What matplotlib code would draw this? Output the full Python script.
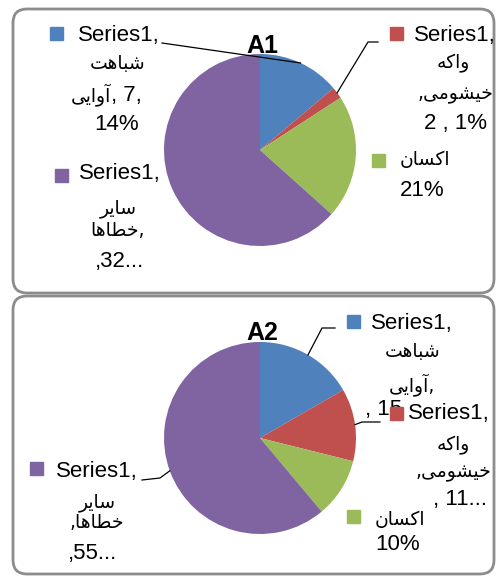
import numpy as np
import matplotlib.pyplot as plt
from matplotlib.patches import FancyBboxPatch, Rectangle

# slice order: شباهت آوایی, واکه خیشومی, اکسان, سایر خطاها
colors = ['#4F81BD', '#C0504D', '#9BBB59', '#8064A2']
a1_values = [7, 1, 10.5, 32]
a2_values = [15, 11, 9, 55]
titles = ['A1', 'A2']

W, H = 496, 576
LATIN = ['Liberation Sans', 'DejaVu Sans']
PERSIAN = ['DejaVu Sans']

# matplotlib has no arabic shaping, so pick presentation forms by hand
# (isolated, final, initial, medial)
FORMS = {
    'ا': ('\uFE8D', '\uFE8E', None, None),
    'آ': ('\uFE81', '\uFE82', None, None),
    'ب': ('\uFE8F', '\uFE90', '\uFE91', '\uFE92'),
    'ت': ('\uFE95', '\uFE96', '\uFE97', '\uFE98'),
    'خ': ('\uFEA5', '\uFEA6', '\uFEA7', '\uFEA8'),
    'ر': ('\uFEAD', '\uFEAE', None, None),
    'س': ('\uFEB1', '\uFEB2', '\uFEB3', '\uFEB4'),
    'ش': ('\uFEB5', '\uFEB6', '\uFEB7', '\uFEB8'),
    'ط': ('\uFEC1', '\uFEC2', '\uFEC3', '\uFEC4'),
    'م': ('\uFEE1', '\uFEE2', '\uFEE3', '\uFEE4'),
    'ن': ('\uFEE5', '\uFEE6', '\uFEE7', '\uFEE8'),
    'ه': ('\uFEE9', '\uFEEA', '\uFEEB', '\uFEEC'),
    'و': ('\uFEED', '\uFEEE', None, None),
    'ک': ('\uFB8E', '\uFB8F', '\uFB90', '\uFB91'),
    'ی': ('\uFBFC', '\uFBFD', '\uFBFE', '\uFBFF'),
}


def fa(word):
    out = []
    for i, ch in enumerate(word):
        iso, fin, ini, med = FORMS[ch]
        joins_prev = i > 0 and FORMS[word[i - 1]][2] is not None
        joins_next = i < len(word) - 1 and ini is not None
        if joins_prev and joins_next:
            out.append(med)
        elif joins_prev:
            out.append(fin)
        elif joins_next:
            out.append(ini)
        else:
            out.append(iso)
    return ''.join(reversed(out))


fig = plt.figure(figsize=(W / 100, H / 100), dpi=100)
ax = fig.add_axes([0, 0, 1, 1])

# panel frames
for y0, h in [(9, 284), (296, 278)]:
    ax.add_patch(FancyBboxPatch((13, y0), 481, h,
                                boxstyle='round,pad=0,rounding_size=14',
                                fc='white', ec='#8c8c8c', lw=2.0, zorder=0))

centers = [(260, 150), (260, 438)]
radius = 96


def arc_mid(values, i, center):
    # y is inverted, so clockwise from 12 o'clock on screen
    total = sum(values)
    frac = (sum(values[:i]) + values[i] / 2) / total
    th = 2 * np.pi * frac
    return center[0] + radius * np.sin(th), center[1] - radius * np.cos(th)


for values, c, t, ty in zip([a1_values, a2_values], centers, titles, [46, 333]):
    ax.pie(values, colors=colors, center=c, radius=radius,
           startangle=-90, counterclock=True, frame=True,
           wedgeprops=dict(linewidth=0))
    ax.text(c[0] + 2, ty, t, fontsize=18, fontweight='bold', family=LATIN,
            ha='center', va='center', zorder=3)

# pixel grid, y grows downward
ax.set_xlim(0, W)
ax.set_ylim(H, 0)
ax.set_aspect('auto')
ax.axis('off')


def lat(x, y, s, ha='center'):
    ax.text(x, y, s, fontsize=16, family=LATIN, ha=ha, va='center', zorder=4)


def per(x, y, s, ha='center'):
    ax.text(x, y, s, fontsize=13.5, family=PERSIAN, ha=ha, va='center', zorder=4)


def key(x, y, color):
    ax.add_patch(Rectangle((x - 6.5, y - 6.5), 13, 13, color=color, zorder=5))


def leader(points, values, i, center):
    xs = [p[0] for p in points]
    ys = [p[1] for p in points]
    mx, my = arc_mid(values, i, center)
    ax.plot(xs + [mx], ys + [my], color='black', lw=0.9, zorder=6)


# ---- A1 labels
key(56, 33, colors[0])
lat(119, 35, 'Series1,')
per(118, 63, fa('شباهت'))
per(111, 95, fa('آوایی'), ha='right')
lat(111, 96, ', 7,', ha='left')
lat(117, 125, '14%')
leader([(162, 43)], a1_values, 0, centers[0])

key(396, 33, colors[1])
lat(455, 35, 'Series1,')
per(453, 63, fa('واکه'))
per(455, 95, ',' + fa('خیشومی'))
lat(455, 124, '2 , 1%')
leader([(378, 42), (368, 42)], a1_values, 1, centers[0])

key(378, 160, colors[2])
per(400, 160, fa('اکسان'), ha='left')
lat(400, 191, '21%', ha='left')

key(61, 175, colors[3])
lat(120, 174, 'Series1,')
per(118, 208, fa('سایر'))
per(118, 231, fa('خطاها') + ',')
lat(120, 262, ',32...')

# ---- A2 labels
key(353, 321, colors[0])
lat(412, 323, 'Series1,')
per(413, 352, fa('شباهت'))
per(412, 385, fa('آوایی') + ',')
lat(402, 410, ', 15', ha='right')
leader([(335, 328), (322, 328)], a2_values, 0, centers[1])

key(396, 413, colors[1])
lat(449, 413, 'Series1,')
per(453, 445, fa('واکه'))
per(453, 472, ',' + fa('خیشومی'))
lat(460, 500, ', 11...')
leader([(380, 422), (362, 422)], a2_values, 1, centers[1])

key(353, 516, colors[2])
per(375, 520, fa('اکسان'), ha='left')
lat(375, 545, '10%', ha='left')

key(36, 468, colors[3])
lat(97, 472, 'Series1,')
per(97, 503, fa('سایر'))
per(97, 523, ',' + fa('خطاها'))
lat(93, 553, ',55...')
leader([(142, 480), (160, 478)], a2_values, 3, centers[1])

fig.savefig('out.png', dpi=100)
